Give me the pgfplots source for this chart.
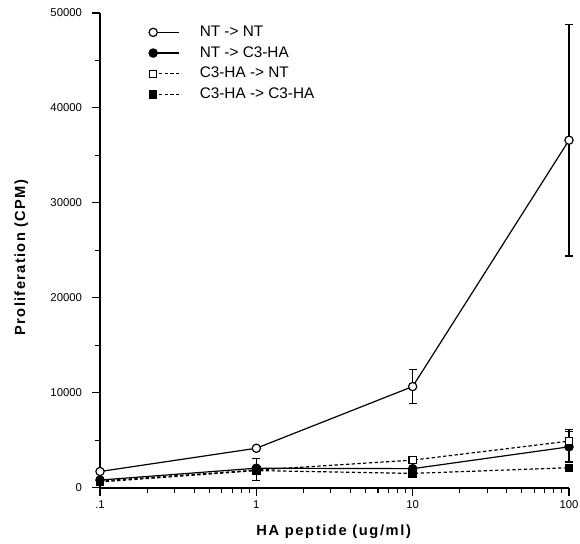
\documentclass[border=0pt]{standalone}
\usepackage{pgfplots}
\pgfplotsset{compat=1.18}
\usepackage{fontspec}
\setmainfont{Liberation Sans}
\begin{document}
\begin{tikzpicture}
\begin{semilogxaxis}[
  scale only axis,
  width=351.75pt, height=356pt,
  xmin=0.1, xmax=100,
  ymin=0, ymax=50000,
  axis lines=left,
  axis line style={-, line width=1.4pt},
  tick align=outside,
  tick style={black, line width=0.8pt},
  major tick length=6pt, minor tick length=4pt,
  xtick={0.1,1,10,100},
  xticklabels={.1,1,10,100},
  ytick={0,10000,20000,30000,40000,50000},
  minor ytick={5000,15000,25000,35000,45000},
  scaled y ticks=false,
  yticklabel style={/pgf/number format/fixed, /pgf/number format/1000 sep={}, xshift=-4pt},
  /pgf/number format/assume math mode=true,
  ticklabel style={font=\fontsize{8.5}{10}\selectfont},
  xlabel={\addfontfeatures{LetterSpace=11}\textbf{HA  peptide  (ug/ml)}},
  ylabel={\addfontfeatures{LetterSpace=9}\textbf{Proliferation (CPM)}},
  label style={font=\fontsize{11}{13}\selectfont},
  xlabel style={at={([yshift=-33pt]axis description cs:0.5,0)}, anchor=center},
  ylabel style={at={([xshift=-59pt]axis description cs:0,0.486)}, anchor=center, rotate=0},
  clip=false,
  legend style={draw=none, fill=none, at={(axis description cs:0.104,0.978)}, anchor=north west,
    font=\fontsize{11.5}{13}\selectfont, row sep=2.5pt, inner sep=0pt,
    nodes={inner sep=1pt, text height=8.5pt, text depth=2.5pt},
    /tikz/every odd column/.style={column sep=14pt}},
  legend cell align=left,
  legend image code/.code={\draw[mark indices={1},#1] plot coordinates {(0pt,0pt) (19.5pt,0pt)};},
  error bars/error bar style={draw=black, solid, line width=0.8pt},
  error bars/error mark options={rotate=90, mark size=3pt, line width=0.8pt, solid},
]
% error bars
\addplot[forget plot, only marks, mark=none, error bars/.cd, y dir=both, y explicit]
  coordinates {(10,10650) +- (0,1800) (100,36600) +- (0,12200)};
\addplot[forget plot, only marks, mark=none, error bars/.cd, y dir=both, y explicit]
  coordinates {(1,1900) +- (0,1150) (100,4300) +- (0,1600)};
\addplot[forget plot, only marks, mark=none, error bars/.cd, y dir=plus, y explicit]
  coordinates {(100,4900) +- (0,1200)};
% series
\addplot[black, line width=0.9pt, mark=*, mark size=3.1pt, mark options={fill=white, solid, line width=0.9pt}]
  coordinates {(0.1,1700) (1,4150) (10,10650) (100,36600)};
\addlegendentry{NT -> NT}
\addplot[black, line width=0.9pt, mark=*, mark size=3.1pt, mark options={fill=black, solid}]
  coordinates {(0.1,800) (1,2050) (10,2000) (100,4300)};
\addlegendentry{NT -> C3-HA}
\addplot[black, line width=0.9pt, dash pattern=on 2.5pt off 1.8pt, mark=square*, mark size=2.7pt, mark options={fill=white, solid, line width=0.9pt}]
  coordinates {(0.1,700) (1,1850) (10,2900) (100,4900)};
\addlegendentry{C3-HA -> NT}
\addplot[black, line width=0.9pt, dash pattern=on 2.5pt off 1.8pt, mark=square*, mark size=2.7pt, mark options={fill=black, solid}]
  coordinates {(0.1,600) (1,1800) (10,1500) (100,2100)};
\addlegendentry{C3-HA -> C3-HA}
\end{semilogxaxis}
\pgfresetboundingbox
\path[use as bounding box] ([xshift=-75pt,yshift=-42pt]current axis.south west) rectangle ([xshift=8.25pt,yshift=9.75pt]current axis.north east);
\end{tikzpicture}
\end{document}
